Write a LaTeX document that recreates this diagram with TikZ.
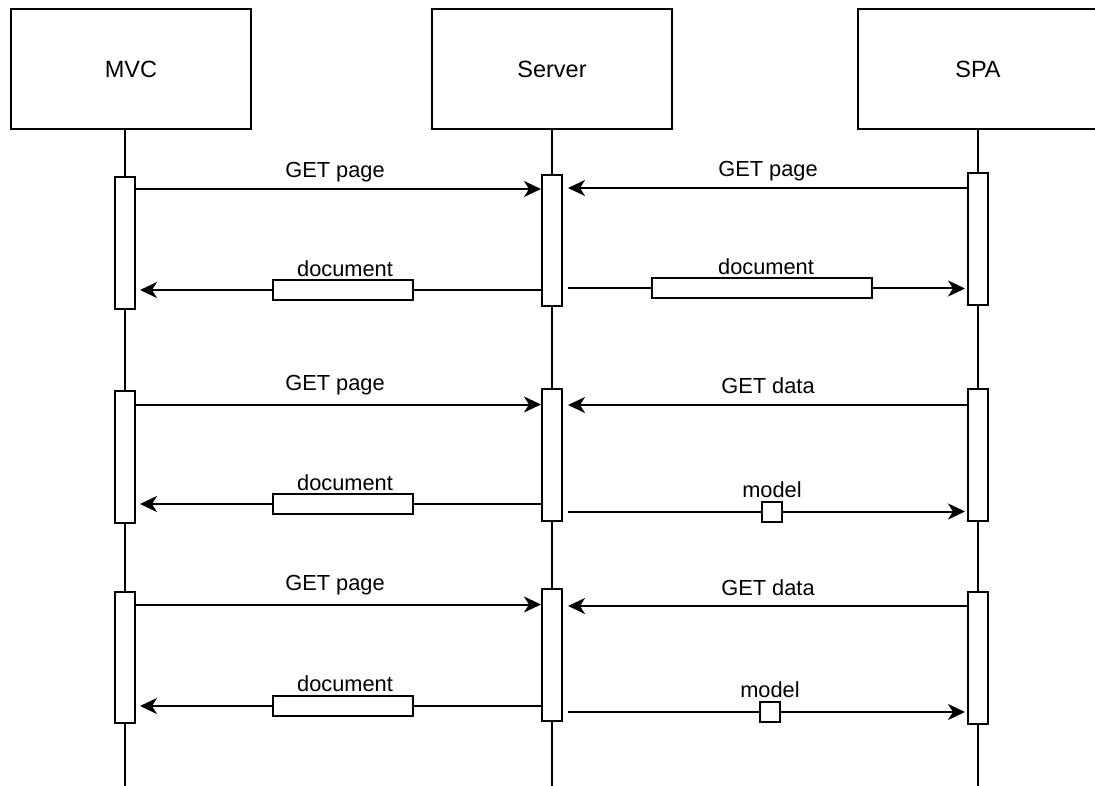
\documentclass[tikz,border=0pt]{standalone}
\usepackage{fontspec}
\setmainfont{Liberation Sans}
\usetikzlibrary{arrows.meta,backgrounds}
\tikzset{
  lbl/.style={font=\fontsize{21.8}{26}\selectfont, inner sep=0pt, anchor=base},
  head/.style={draw, line width=2pt, fill=white, minimum width=240pt, minimum height=120pt, inner sep=0pt, font=\fontsize{23.5}{28}\selectfont},
  bar/.style={draw, line width=2pt, fill=white, minimum width=20pt, inner sep=0pt},
  msgbox/.style={draw, line width=2pt, fill=white, minimum height=20pt, inner sep=0pt},
  life/.style={line width=2pt},
  msg/.style={line width=2pt, -{Stealth[length=17pt,width=16pt,inset=5pt]}},
  seg/.style={line width=2pt}
}
\begin{document}
\begin{tikzpicture}[x=1pt,y=-1pt]
\useasboundingbox (0,0) rectangle (1095,786);
\clip (0,0) rectangle (1095,786);
\coordinate (bot) at (0,790);
% heads
\node[head] (mvc) at (131,69) {MVC};
\node[head] (srv) at (552,69) {Server};
\node[head] (spa) at (978,69) {SPA};
% activation bars
\node[bar, minimum height=132pt] (m1) at (125,243) {};
\node[bar, minimum height=132pt] (m2) at (125,457) {};
\node[bar, minimum height=131pt] (m3) at (125,657.5) {};
\node[bar, minimum height=131pt] (s1) at (552,240.5) {};
\node[bar, minimum height=132pt] (s2) at (552,455) {};
\node[bar, minimum height=132pt] (s3) at (552,655) {};
\node[bar, minimum height=132pt] (p1) at (978,239) {};
\node[bar, minimum height=132pt] (p2) at (978,455) {};
\node[bar, minimum height=132pt] (p3) at (978,658) {};
% lifelines
\begin{scope}[on background layer]
\draw[life] (m1.center |- mvc.south) -- (m1.center |- bot);
\draw[life] (s1.center |- srv.south) -- (s1.center |- bot);
\draw[life] (p1.center |- spa.south) -- (p1.center |- bot);
\end{scope}
% message y levels
\coordinate (g1) at (0,189);
\coordinate (h1) at (0,188);
\coordinate (g2) at (0,404.5);
\coordinate (h2) at (0,405);
\coordinate (g3) at (0,604.5);
\coordinate (h3) at (0,606);
% message boxes
\node[msgbox, minimum width=140pt] (ld1) at (343,290) {};
\node[msgbox, minimum width=220pt] (rd1) at (762,288.5) {};
\node[msgbox, minimum width=140pt] (ld2) at (343,504) {};
\node[msgbox, minimum width=20pt] (rm2) at (772,511.5) {};
\node[msgbox, minimum width=140pt] (ld3) at (343,706) {};
\node[msgbox, minimum width=20pt] (rm3) at (770,712) {};
% labels
\node[lbl] (t1) at (335,178) {GET page};
\node[lbl] (t2) at (768,177) {GET page};
\node[lbl] (t3) at (345,277) {document};
\node[lbl] (t4) at (766,275) {document};
\node[lbl] (t5) at (335,390) {GET page};
\node[lbl] (t6) at (768,393) {GET data};
\node[lbl] (t7) at (345,490.5) {document};
\node[lbl] (t8) at (772,497) {model};
\node[lbl] (t9) at (335,590) {GET page};
\node[lbl] (t10) at (768,595) {GET data};
\node[lbl] (t11) at (345,691) {document};
\node[lbl] (t12) at (770,697) {model};
% row 1
\draw[msg] (m1.east |- g1) -- (s1.west |- g1);
\draw[msg, shorten >=5pt] (p1.west |- h1) -- (s1.east |- h1);
\draw[seg] (s1.west |- ld1) -- (ld1.east);
\draw[msg, shorten >=4pt] (ld1.west) -- (m1.east |- ld1);
\draw[seg, shorten <=5pt] (s1.east |- rd1) -- (rd1.west);
\draw[msg, shorten >=2pt] (rd1.east) -- (p1.west |- rd1);
% row 2
\draw[msg] (m2.east |- g2) -- (s2.west |- g2);
\draw[msg, shorten >=5pt] (p2.west |- h2) -- (s2.east |- h2);
\draw[seg] (s2.west |- ld2) -- (ld2.east);
\draw[msg, shorten >=4pt] (ld2.west) -- (m2.east |- ld2);
\draw[seg, shorten <=5pt] (s2.east |- rm2) -- (rm2.west);
\draw[msg, shorten >=2pt] (rm2.east) -- (p2.west |- rm2);
% row 3
\draw[msg] (m3.east |- g3) -- (s3.west |- g3);
\draw[msg, shorten >=5pt] (p3.west |- h3) -- (s3.east |- h3);
\draw[seg] (s3.west |- ld3) -- (ld3.east);
\draw[msg, shorten >=4pt] (ld3.west) -- (m3.east |- ld3);
\draw[seg, shorten <=5pt] (s3.east |- rm3) -- (rm3.west);
\draw[msg, shorten >=2pt] (rm3.east) -- (p3.west |- rm3);
\end{tikzpicture}
\end{document}
